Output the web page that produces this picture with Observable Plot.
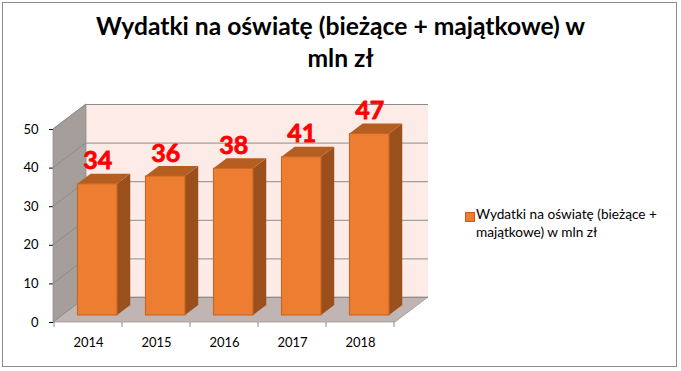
<!DOCTYPE html>
<html><head><meta charset="utf-8">
<script src="https://cdn.jsdelivr.net/npm/d3@7"></script>
<script src="https://cdn.jsdelivr.net/npm/@observablehq/plot@0.6"></script>
<style>
body{margin:0;background:#fff;}
#wrap{position:relative;width:681px;height:371px;overflow:hidden;font-family:Lato,"Open Sans",sans-serif;background:#fff}
#chart{position:absolute;left:0;top:0}
#frame{position:absolute;left:2px;top:2px;width:675px;height:365px;border:1px solid #8c8c8c;box-sizing:border-box;pointer-events:none}
.tl{position:absolute;left:0;width:681px;text-align:center;font-weight:bold;color:#000;white-space:nowrap;line-height:1}
#legend{position:absolute;left:465px;top:206px;font-size:13px;line-height:17.5px;color:#000}
#legend .sw{position:absolute;left:0;top:6px;width:8px;height:8px;background:#ed7d31;border:1px solid #c0601c}
#legend .tx{position:absolute;left:11px;top:0;white-space:nowrap}
</style></head><body>
<div id="wrap">
  <div id="chart"></div>
  <div id="frame"></div>
  <div class="tl" id="t1">Wydatki na oświatę (bieżące + majątkowe) w</div>
  <div class="tl" id="t2">mln zł</div>
  <div id="legend"><div class="sw"></div><div class="tx" id="lg">Wydatki na oświatę (bieżące +<br>majątkowe) w mln zł</div></div>
</div>
<script>
const years = ["2014", "2015", "2016", "2017", "2018"];
const values = [34, 36, 38, 41, 47];
const yTicks = [0, 10, 20, 30, 40, 50];
const seriesName = "Wydatki na oświatę (bieżące + majątkowe) w mln zł";

const data = years.map((year, i) => ({year, value: values[i]}));

// 3D projection vector (full depth) in pixels and bar depth fractions
const DX = 33, DY = -25;
const BF = 0.28, BB = 0.68;
const INSET = 14.2;

// fit title & legend fonts to the reference widths
const t1 = document.getElementById("t1"), t2 = document.getElementById("t2");
const c = document.createElement("canvas").getContext("2d");
c.font = "bold 22px Lato";
const tfs = 22 * 490 / c.measureText("Wydatki na oświatę (bieżące + majątkowe) w").width;
t1.style.fontSize = tfs + "px"; t2.style.fontSize = tfs + "px";
t1.style.top = (38 - tfs * 0.99) + "px";
t2.style.top = (70 - tfs * 0.99) + "px";
c.font = "13px Lato";
const lfs = 13 * 181 / c.measureText("Wydatki na oświatę (bieżące +").width;
document.getElementById("legend").style.fontSize = lfs + "px";

function walls(index, scales, values, dims) {
  const {y} = scales;
  const x0 = dims.marginLeft, x1 = dims.width - dims.marginRight;
  const y0 = y(0), yT = y(yTicks[yTicks.length - 1]);
  const g = d3.create("svg:g");
  // back wall
  g.append("path")
    .attr("d", `M${x0 + DX},${y0 + DY}L${x0 + DX},${yT + DY}L${x1 + DX},${yT + DY}L${x1 + DX},${y0 + DY}Z`)
    .attr("fill", "#fcebe6");
  // left wall
  g.append("path")
    .attr("d", `M${x0},${y0}L${x0},${yT}L${x0 + DX},${yT + DY}L${x0 + DX},${y0 + DY}Z`)
    .attr("fill", "#a59e9a").attr("stroke", "#8f8f8f").attr("stroke-width", 0.8);
  // floor
  g.append("path")
    .attr("d", `M${x0},${y0}L${x1},${y0}L${x1 + DX},${y0 + DY}L${x0 + DX},${y0 + DY}Z`)
    .attr("fill", "#c0b5b2").attr("stroke", "#9a9a9a").attr("stroke-width", 0.8);
  // diagonal gridlines on left wall
  for (const t of yTicks) {
    g.append("line")
      .attr("x1", x0).attr("y1", y(t)).attr("x2", x0 + DX).attr("y2", y(t) + DY)
      .attr("stroke", "#8c8c8c").attr("stroke-width", 1);
  }
  // category ticks at band boundaries on front floor edge
  const xs = scales.x;
  const bounds = years.map(d => xs(d)).concat([xs(years[years.length - 1]) + xs.bandwidth()]);
  for (const bx of bounds) {
    g.append("line").attr("x1", bx).attr("x2", bx).attr("y1", y0).attr("y2", y0 + 5)
      .attr("stroke", "#8c8c8c");
  }
  return g.node();
}

function barSides(index, scales) {
  const {x, y} = scales;
  const g = d3.create("svg:g");
  const ddx = DX * (BB - BF), ddy = DY * (BB - BF);
  for (const d of data) {
    const xl = x(d.year) + INSET + DX * BF;
    const xr = x(d.year) + x.bandwidth() - INSET + DX * BF;
    const yb = y(0) + DY * BF, yt = y(d.value) + DY * BF;
    g.append("path")
      .attr("d", `M${xr},${yb}L${xr},${yt}L${xr + ddx},${yt + ddy}L${xr + ddx},${yb + ddy}Z`)
      .attr("fill", "#9a4f1d");
    g.append("path")
      .attr("d", `M${xl},${yt}L${xr},${yt}L${xr + ddx},${yt + ddy}L${xl + ddx},${yt + ddy}Z`)
      .attr("fill", "#b45e22");
  }
  return g.node();
}

const chart = Plot.plot({
  width: 681,
  height: 371,
  marginLeft: 53,
  marginRight: 286,
  marginTop: 129,
  marginBottom: 49,
  style: {fontFamily: "Lato, 'Open Sans', sans-serif", fontSize: "13px", color: "#000", background: "transparent", overflow: "visible"},
  x: {domain: years, padding: 0, tickSize: 0, tickPadding: 15, label: null},
  y: {domain: [0, 50], ticks: yTicks, tickSize: 4, tickPadding: 11, label: null},
  marks: [
    walls,
    Plot.ruleY(yTicks, {dx: DX, dy: DY, stroke: "#8c8c8c", strokeWidth: 1}),
    barSides,
    Plot.barY(data, {x: "year", y: "value", fill: "#ed7d31", stroke: "#c5621d", strokeWidth: 1,
      insetLeft: INSET, insetRight: INSET, dx: DX * BF, dy: DY * BF}),
    Plot.text(data, {x: "year", y: "value", text: d => String(d.value), fill: "#ff0000",
      stroke: "#ff0000", strokeWidth: 0.8,
      fontWeight: "bold", fontSize: 25, dx: DX * BF, dy: DY * BF - 23})
  ]
});
document.getElementById("chart").appendChild(chart);
</script>
</body></html>
